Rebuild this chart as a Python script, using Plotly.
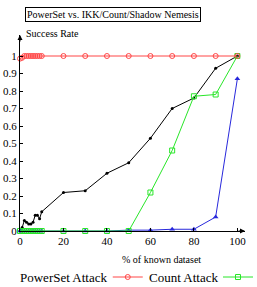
import plotly.graph_objects as go

x_fine = [0, 1, 2, 3, 4, 5, 6, 7, 8, 9, 10, 20, 30, 40, 50, 60, 70, 80, 90, 100]
powerset = [0.985, 0.99, 1, 1, 1, 1, 1, 1, 1, 1, 1, 1, 1, 1, 1, 1, 1, 1, 1, 1]
count = [0, 0, 0, 0, 0, 0, 0, 0, 0, 0, 0, 0, 0, 0, 0, 0.22, 0.46, 0.77, 0.78, 1.0]
ikk = [0, 0.02, 0.06, 0.05, 0.04, 0.04, 0.05, 0.09, 0.09, 0.07, 0.11, 0.22, 0.23, 0.33, 0.39, 0.53, 0.70, 0.76, 0.93, 1.0]
shadow = [0, 0, 0, 0, 0, 0, 0, 0, 0, 0, 0, 0, 0, 0, 0.005, 0.005, 0.01, 0.01, 0.08, 0.87]

x_ticks = [0, 20, 40, 60, 80, 100]
y_ticks = [0, 0.1, 0.2, 0.3, 0.4, 0.5, 0.6, 0.7, 0.8, 0.9, 1]

FONT = "Liberation Serif, Times New Roman, Times, serif"
RED = "rgb(255,70,70)"
GREEN = "rgb(40,230,40)"
BLUE = "rgb(40,40,220)"

fig = go.Figure()
fig.add_trace(go.Scatter(x=x_fine, y=ikk, mode="lines+markers", name="IKK",
                         line=dict(color="black", width=1),
                         marker=dict(symbol="circle", size=3, color="black"),
                         showlegend=False, cliponaxis=False))
fig.add_trace(go.Scatter(x=x_fine, y=shadow, mode="lines+markers", name="Shadow Nemesis",
                         line=dict(color=BLUE, width=1),
                         marker=dict(symbol="triangle-up", size=5, color=BLUE),
                         showlegend=False, cliponaxis=False))
fig.add_trace(go.Scatter(x=x_fine, y=count, mode="lines+markers", name=" ",
                         line=dict(color=GREEN, width=1),
                         marker=dict(symbol="square-open", size=5, color=GREEN, line=dict(width=1)),
                         legend="legend2", cliponaxis=False))
fig.add_trace(go.Scatter(x=x_fine, y=powerset, mode="lines+markers", name=" ",
                         line=dict(color=RED, width=1),
                         marker=dict(symbol="circle-open", size=5, color=RED, line=dict(width=1)),
                         legend="legend", cliponaxis=False))

axis_common = dict(showline=True, linecolor="black", linewidth=1, ticks="inside",
                   ticklen=3, tickcolor="black", showgrid=False, zeroline=False,
                   tickfont=dict(family=FONT, size=11, color="black"))

fig.update_layout(
    width=257, height=287,
    margin=dict(l=20, r=12, t=35, b=56, autoexpand=False),
    paper_bgcolor="white", plot_bgcolor="white",
    font=dict(family=FONT, size=10, color="black"),
    xaxis=dict(range=[0, 103.5], tickvals=x_ticks, **axis_common),
    yaxis=dict(range=[0, 1.12], tickvals=y_ticks, **axis_common),
    legend=dict(x=0.39, y=-0.235, xanchor="left", yanchor="middle",
                bgcolor="rgba(0,0,0,0)", font=dict(family=FONT, size=13), itemwidth=30),
    legend2=dict(x=0.88, y=-0.235, xanchor="left", yanchor="middle",
                 bgcolor="rgba(0,0,0,0)", font=dict(family=FONT, size=13), itemwidth=30),
)

anns = [
    dict(text="PowerSet vs. IKK/Count/Shadow Nemesis", xref="paper", yref="paper",
         x=0.413, y=1.105, xanchor="center", yanchor="middle", showarrow=False,
         bordercolor="black", borderwidth=1, borderpad=1, font=dict(family=FONT, size=10)),
    dict(text="Success Rate", xref="paper", yref="paper", x=0.018, y=1.01,
         xanchor="left", yanchor="middle", showarrow=False, font=dict(family=FONT, size=10)),
    dict(text="% of known dataset", xref="paper", yref="paper", x=0.631, y=-0.143,
         xanchor="center", yanchor="middle", showarrow=False, font=dict(family=FONT, size=10)),
    dict(text="PowerSet Attack", xref="paper", yref="paper", x=0.40, y=-0.235,
         xanchor="right", yanchor="middle", showarrow=False, font=dict(family=FONT, size=13)),
    dict(text="Count Attack", xref="paper", yref="paper", x=0.889, y=-0.235,
         xanchor="right", yanchor="middle", showarrow=False, font=dict(family=FONT, size=13)),
    # axis arrows
    dict(text="", xref="paper", yref="paper", x=1.0, y=0, ax=-8, ay=0,
         showarrow=True, arrowhead=2, arrowsize=1, arrowwidth=1, arrowcolor="black"),
    dict(text="", xref="paper", yref="paper", x=0, y=1.0, ax=0, ay=8,
         showarrow=True, arrowhead=2, arrowsize=1, arrowwidth=1, arrowcolor="black"),
]
fig.update_layout(annotations=anns)

fig.write_html("out.html")
